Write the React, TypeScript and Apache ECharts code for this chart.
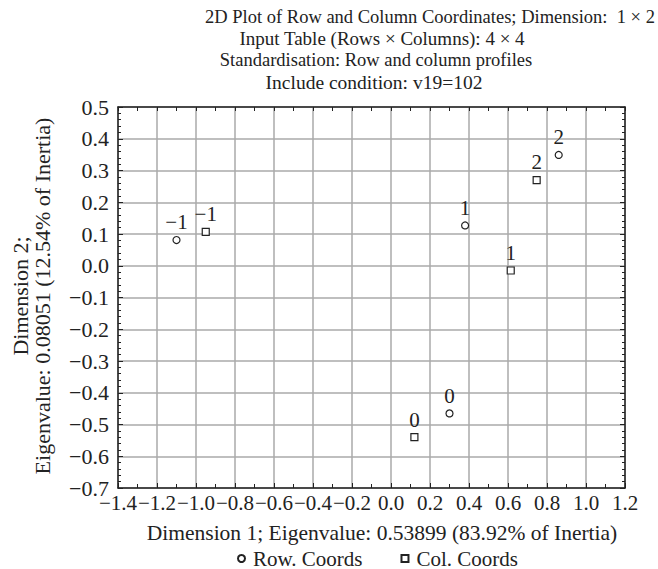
import React, { useEffect, useRef } from "react";
import * as echarts from "echarts";

const titleLines = [
  "2D Plot of Row and Column Coordinates; Dimension:  1 × 2",
  "Input Table (Rows × Columns): 4 × 4",
  "Standardisation: Row and column profiles",
  "Include condition: v19=102",
];
const xAxisTitle = "Dimension 1; Eigenvalue: 0.53899 (83.92% of Inertia)";
const yAxisTitle1 = "Dimension 2;";
const yAxisTitle2 = "Eigenvalue: 0.08051 (12.54% of Inertia)";

const pointLabels = ["−1", "0", "1", "2"];
const rowX = [-1.1, 0.3, 0.38, 0.86];
const rowY = [0.081, -0.465, 0.127, 0.349];
const colX = [-0.95, 0.12, 0.614, 0.747];
const colY = [0.107, -0.54, -0.015, 0.27];

const seriesNames = ["Row. Coords", "Col. Coords"];

const FONT = "'Liberation Serif', 'DejaVu Serif', serif";
const INK = "#222";
const AX = 22;

const fmt = (v: number) => {
  const s = (Math.round(v * 10) / 10).toFixed(1);
  return s.replace("-", "−");
};

export default function App() {
  const ref = useRef<HTMLDivElement>(null);
  useEffect(() => {
    if (!ref.current) return;
    const chart = echarts.init(ref.current, undefined, { renderer: "svg" });
    const L = 118, T = 107, W = 507, H = 381;
    const axisLine = { show: true, onZero: false, lineStyle: { color: INK, width: 1.5 } };
    const titleCenters = [430, 382, 376, 374];
    const titleSizes = [18.5, 19, 18.5, 19.5];
    const pointLabel = {
      show: true,
      position: "top",
      distance: 3,
      formatter: (p: any) => pointLabels[p.dataIndex],
      fontFamily: FONT,
      fontSize: 21,
      color: INK,
    };
    chart.setOption({
      animation: false,
      backgroundColor: "#fff",
      grid: { left: L, top: T, width: W, height: H, containLabel: false },
      graphic: [
        ...titleLines.map((t, i) => ({
          type: "text",
          x: titleCenters[i],
          y: 17 + i * 21.7,
          style: {
            text: t,
            font: `${titleSizes[i]}px ${FONT}`,
            fill: INK,
            textAlign: "center",
            textVerticalAlign: "middle",
          },
        })),
        {
          type: "text",
          x: 382,
          y: 533,
          style: {
            text: xAxisTitle,
            font: `21.5px ${FONT}`,
            fill: INK,
            textAlign: "center",
            textVerticalAlign: "middle",
          },
        },
        {
          type: "text",
          x: 20,
          y: 296,
          rotation: Math.PI / 2,
          style: {
            text: yAxisTitle1,
            font: `${AX}px ${FONT}`,
            fill: INK,
            textAlign: "center",
            textVerticalAlign: "middle",
          },
        },
        {
          type: "text",
          x: 42,
          y: 296,
          rotation: Math.PI / 2,
          style: {
            text: yAxisTitle2,
            font: `${AX}px ${FONT}`,
            fill: INK,
            textAlign: "center",
            textVerticalAlign: "middle",
          },
        },
      ],
      legend: {
        left: 232,
        top: 543,
        itemWidth: 7,
        itemHeight: 7,
        itemGap: 38,
        textStyle: { fontFamily: FONT, fontSize: 21, color: INK, padding: [0, 0, 0, 3] },
        data: [
          { name: seriesNames[0], icon: "circle" },
          { name: seriesNames[1], icon: "rect" },
        ],
      },
      xAxis: [
        {
          type: "value",
          min: -1.4,
          max: 1.2,
          interval: 0.2,
          position: "bottom",
          axisLine,
          axisTick: { show: true, inside: true, length: 5, lineStyle: { color: INK } },
          minorTick: { show: true, splitNumber: 2, length: 4, lineStyle: { color: INK } },
          splitLine: { show: true, lineStyle: { color: "#aaaaaa", width: 1.5 } },
          axisLabel: {
            formatter: fmt,
            fontFamily: FONT,
            fontSize: 21,
            lineHeight: 16,
            color: INK,
            margin: 7,
            showMinLabel: true,
            showMaxLabel: true,
            hideOverlap: false,
          },
        },
        {
          type: "value",
          min: -1.4,
          max: 1.2,
          interval: 0.2,
          position: "top",
          axisLine,
          axisTick: { show: true, inside: true, length: 4, lineStyle: { color: INK } },
          minorTick: { show: true, splitNumber: 2, length: 4, lineStyle: { color: INK } },
          splitLine: { show: false },
          axisLabel: { show: false },
        },
      ],
      yAxis: [
        {
          type: "value",
          min: -0.7,
          max: 0.5,
          interval: 0.1,
          position: "left",
          axisLine,
          axisTick: { show: true, inside: true, length: 5, lineStyle: { color: INK } },
          minorTick: { show: true, splitNumber: 5, length: 3, lineStyle: { color: INK } },
          splitLine: { show: true, lineStyle: { color: "#aaaaaa", width: 1.5 } },
          axisLabel: {
            formatter: fmt,
            fontFamily: FONT,
            fontSize: AX,
            lineHeight: 14,
            color: INK,
            margin: 9,
            showMinLabel: true,
            showMaxLabel: true,
          },
        },
        {
          type: "value",
          min: -0.7,
          max: 0.5,
          interval: 0.1,
          position: "right",
          axisLine,
          axisTick: { show: true, inside: true, length: 5, lineStyle: { color: INK } },
          minorTick: { show: true, splitNumber: 5, length: 3, lineStyle: { color: INK } },
          splitLine: { show: false },
          axisLabel: { show: false },
        },
      ],
      series: [
        {
          name: seriesNames[0],
          type: "scatter",
          symbol: "circle",
          symbolSize: 7,
          itemStyle: { color: "#fff", borderColor: INK, borderWidth: 1.2, opacity: 1 },
          label: pointLabel,
          data: rowX.map((x, i) => [x, rowY[i]]),
        },
        {
          name: seriesNames[1],
          type: "scatter",
          symbol: "rect",
          symbolSize: 7,
          itemStyle: { color: "#fff", borderColor: INK, borderWidth: 1.2, opacity: 1 },
          label: pointLabel,
          data: colX.map((x, i) => [x, colY[i]]),
        },
      ],
    });
    return () => chart.dispose();
  }, []);
  return (
    <div
      ref={ref}
      style={{ position: "absolute", left: 0, top: 0, width: 658, height: 569 }}
    />
  );
}
